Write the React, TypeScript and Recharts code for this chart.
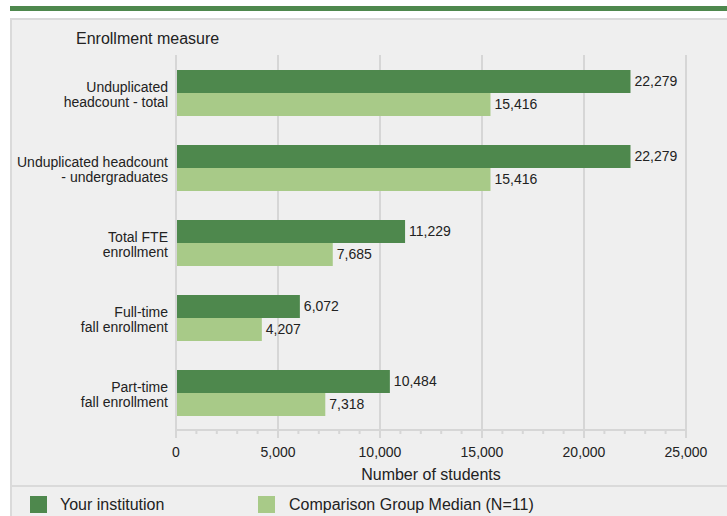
import React from "react";
import { Bar, BarChart, CartesianGrid, LabelList, XAxis, YAxis } from "recharts";

const categories = [
  "Unduplicated\nheadcount - total",
  "Unduplicated headcount\n- undergraduates",
  "Total FTE\nenrollment",
  "Full-time\nfall enrollment",
  "Part-time\nfall enrollment",
];
const institution = [22279, 22279, 11229, 6072, 10484];
const comparison = [15416, 15416, 7685, 4207, 7318];
const majorTicks = [0, 5000, 10000, 15000, 20000, 25000];
const minorTicks = [
  1000, 2000, 3000, 4000, 6000, 7000, 8000, 9000, 11000, 12000, 13000, 14000,
  16000, 17000, 18000, 19000, 21000, 22000, 23000, 24000,
];

const DARK = "#4e884d";
const LIGHT = "#a8ca88";
const GRID = "#d6d6d6";
const FONT = '"Liberation Sans", Arial, sans-serif';

const data = categories.map((name, i) => ({
  name,
  institution: institution[i],
  comparison: comparison[i],
}));

const allTicks = [...majorTicks, ...minorTicks].sort((a, b) => a - b);

const fmt = (v: number) => v.toLocaleString("en-US");

function CategoryTick(props: any) {
  const { x, y, payload } = props;
  const lines = String(payload.value).split("\n");
  return (
    <text x={x} y={y} textAnchor="end" fill="#222" fontSize={14} fontFamily={FONT}>
      {lines.map((line, i) => (
        <tspan key={i} x={x} y={y - 1 + i * 15}>
          {line}
        </tspan>
      ))}
    </text>
  );
}

function ValueTick(props: any) {
  const { x, y, payload } = props;
  const major = majorTicks.includes(payload.value);
  return (
    <g>
      <line x1={x} x2={x} y1={y} y2={y + (major ? 8 : 4)} stroke={GRID} strokeWidth={2} />
      {major && (
        <text x={x} y={y + 27} textAnchor="middle" fill="#222" fontSize={14} fontFamily={FONT}>
          {fmt(payload.value)}
        </text>
      )}
    </g>
  );
}

// gridlines only at the labelled ticks, placed with the axis scale
const majorGrid = ({ xAxis }: any) =>
  majorTicks.map((t) => {
    const s = xAxis.scale;
    return typeof s === "function" ? s(t) : s.map(t);
  });

export default function App() {
  return (
    <div
      style={{
        position: "fixed",
        left: 0,
        top: 0,
        width: 727,
        height: 516,
        overflow: "hidden",
        background: "#fff",
        fontFamily: FONT,
      }}
    >
      <div style={{ position: "absolute", left: 10, top: 6, width: 730, height: 5, background: DARK }} />
      <div
        style={{
          position: "absolute",
          left: 10,
          top: 18,
          width: 740,
          height: 520,
          background: "#efefef",
          borderLeft: "2px solid #dadada",
          borderTop: "2px solid #dadada",
        }}
      />
      <div style={{ position: "absolute", left: 76, top: 30, fontSize: 16, color: "#222" }}>
        Enrollment measure
      </div>
      <div style={{ position: "absolute", left: 0, top: 0 }}>
        <BarChart
          width={727}
          height={485}
          data={data}
          layout="vertical"
          margin={{ top: 55, right: 41, bottom: 0, left: 0 }}
          barGap={0}
          barSize={23}
        >
          <CartesianGrid
            horizontal={false}
            stroke={GRID}
            strokeWidth={2}
            verticalCoordinatesGenerator={majorGrid}
          />
          <XAxis
            type="number"
            domain={[0, 25000]}
            ticks={allTicks}
            interval={0}
            height={55}
            tickSize={0}
            tickMargin={0}
            axisLine={{ stroke: GRID, strokeWidth: 2 }}
            tickLine={false}
            tick={<ValueTick />}
            label={{
              value: "Number of students",
              position: "insideBottom",
              offset: 5,
              fill: "#222",
              fontSize: 16,
              fontFamily: FONT,
            }}
          />
          <YAxis
            type="category"
            dataKey="name"
            width={176}
            tickLine={false}
            axisLine={{ stroke: GRID, strokeWidth: 2 }}
            tick={<CategoryTick />}
            interval={0}
          />
          <Bar dataKey="institution" fill={DARK} isAnimationActive={false}>
            <LabelList
              dataKey="institution"
              position="right"
              offset={4}
              formatter={fmt}
              fill="#222"
              fontSize={14}
              fontFamily={FONT}
            />
          </Bar>
          <Bar dataKey="comparison" fill={LIGHT} isAnimationActive={false}>
            <LabelList
              dataKey="comparison"
              position="right"
              offset={4}
              formatter={fmt}
              fill="#222"
              fontSize={14}
              fontFamily={FONT}
            />
          </Bar>
        </BarChart>
      </div>
      <div style={{ position: "absolute", left: 10, top: 485, width: 730, height: 2, background: "#dadada" }} />
      <div style={{ position: "absolute", left: 30, top: 496, width: 17, height: 17, background: DARK }} />
      <div style={{ position: "absolute", left: 60, top: 496, fontSize: 16, color: "#222", lineHeight: "18px" }}>
        Your institution
      </div>
      <div style={{ position: "absolute", left: 258, top: 496, width: 17, height: 17, background: LIGHT }} />
      <div style={{ position: "absolute", left: 289, top: 496, fontSize: 16, color: "#222", lineHeight: "18px" }}>
        Comparison Group Median (N=11)
      </div>
    </div>
  );
}
